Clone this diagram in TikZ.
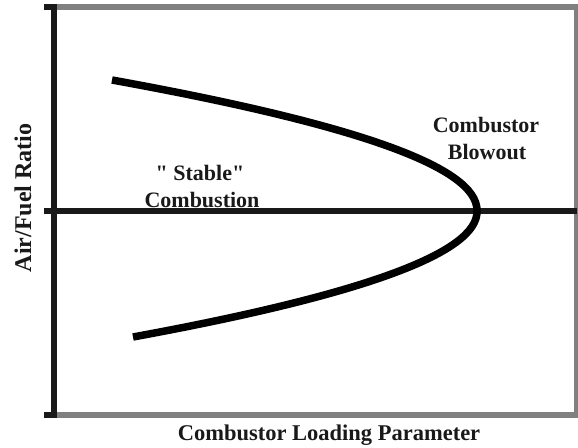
\documentclass[tikz,border=0pt]{standalone}
\usepackage{fontspec}
\setmainfont{Liberation Serif}[Ligatures=TeXOff]
\begin{document}
\begin{tikzpicture}[x=1pt,y=-1pt,
  darkline/.style={draw=black!90, line width=6pt},
  grayline/.style={draw=black!50, line width=6pt},
  curveline/.style={draw=black, line width=7.5pt},
  lbl/.style={font=\fontsize{22}{27}\selectfont\bfseries, text=black!90, inner sep=0pt, anchor=base}]
\useasboundingbox (0,0) rectangle (578,447);
% frame
\coordinate (tl) at (54,7);
\coordinate (tr) at (577,7);
\coordinate (bl) at (54,415);
\coordinate (br) at (577,415);
\coordinate (ml) at (44,211);
\coordinate (mr) at (577,211);
\draw[grayline] (tl) -- (tr) -- (br) -- (bl);
\draw[darkline] (44,7) -- (57,7);
\draw[darkline] (44,415) -- (57,415);
\draw[darkline] (54,4) -- (54,418);
\draw[darkline] (ml) -- (mr);
% curve
\coordinate (top) at (112,80);
\coordinate (vertex) at (477,211);
\coordinate (bot) at (133,337);
\draw[curveline] (top) .. controls (355,124) and (478,167) .. (vertex)
  .. controls (478,253) and (362,295) .. (bot);
% labels
\node[lbl] (cb1) at (486,132) {Combustor};
\node[lbl] (cb2) at (487,159) {Blowout};
\node[lbl] (st1) at (200,180) {" Stable"};
\node[lbl] (st2) at (202,207) {Combustion};
\node[lbl, font=\fontsize{22.5}{27}\selectfont\bfseries] (xl) at (329,440) {Combustor Loading Parameter};
\node[lbl, rotate=90, font=\fontsize{24}{27}\selectfont\bfseries] (yl) at (31,198) {Air/Fuel Ratio};
\end{tikzpicture}
\end{document}
